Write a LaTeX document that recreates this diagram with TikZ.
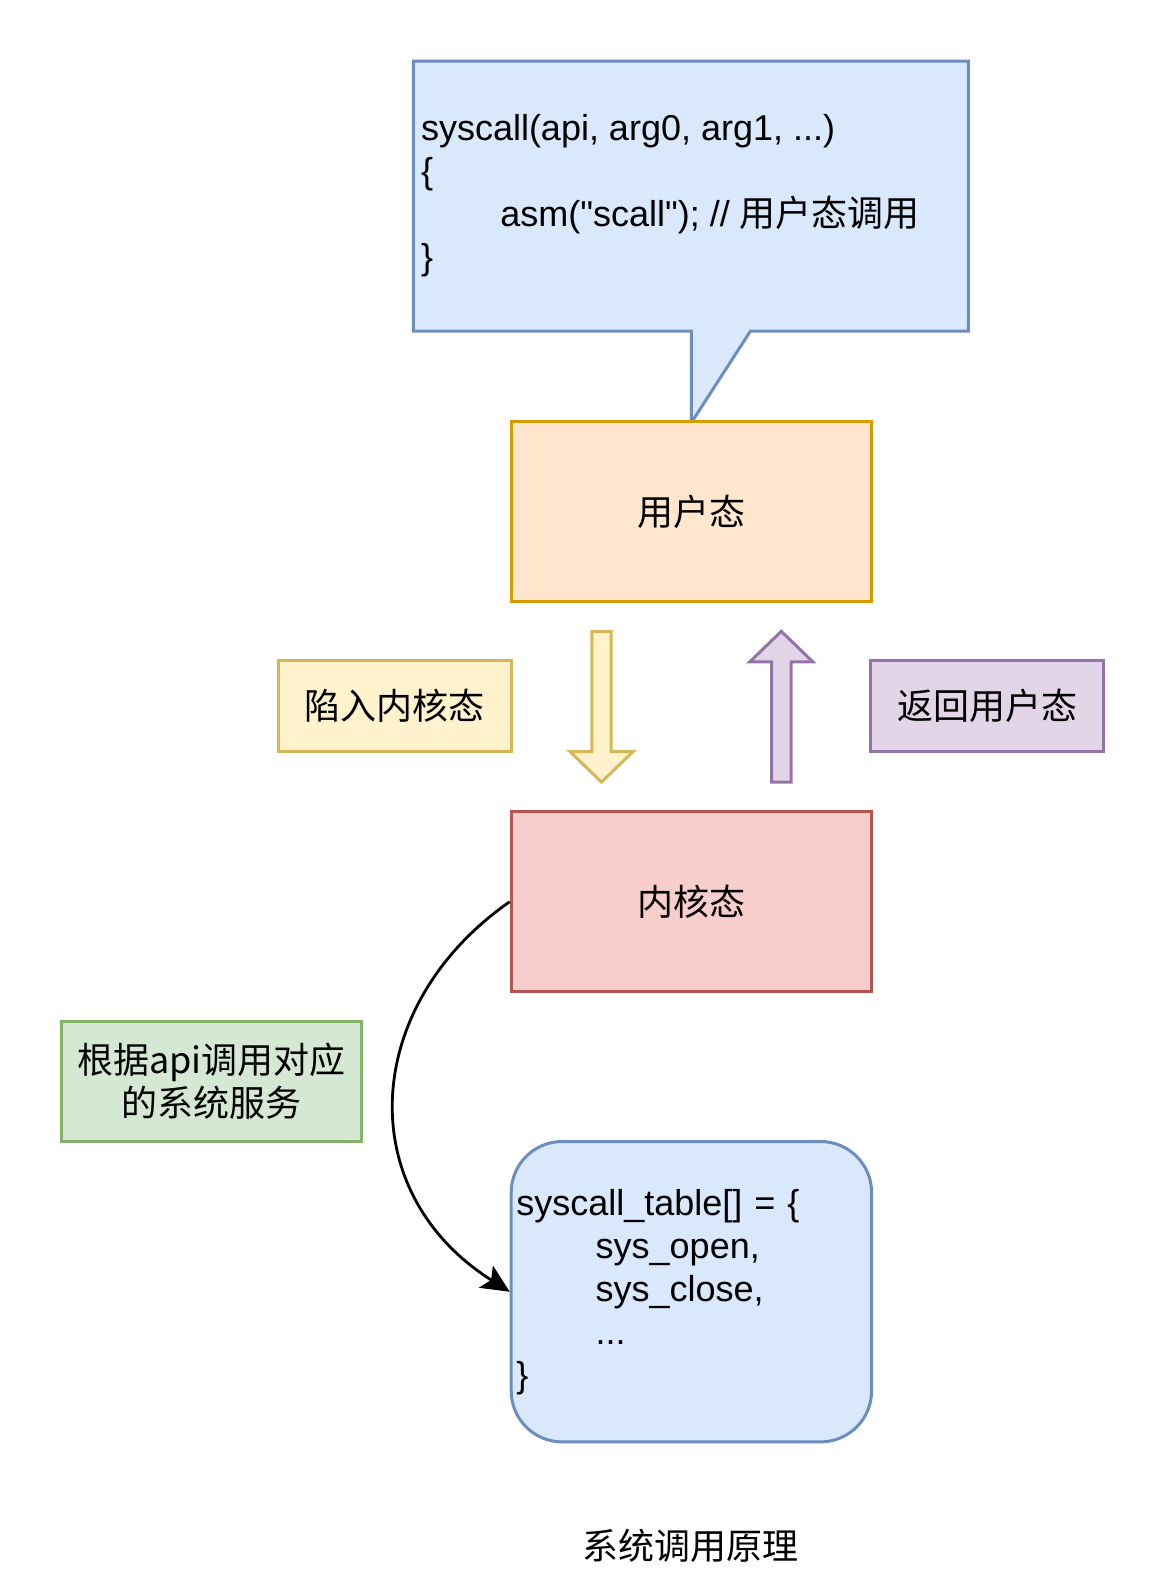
\documentclass[tikz,border=0pt]{standalone}
\usepackage{fontspec}
\newfontfamily\latin{Liberation Sans}
\newfontfamily\cjk{Noto Sans CJK SC}
\usepackage{xcolor}
\usepackage{tikz}
\usetikzlibrary{arrows.meta}

\definecolor{blueFill}{HTML}{DAE8FC}
\definecolor{blueLine}{HTML}{6C8EBF}
\definecolor{orangeFill}{HTML}{FFE6CC}
\definecolor{orangeLine}{HTML}{D79B00}
\definecolor{yellowFill}{HTML}{FFF2CC}
\definecolor{yellowLine}{HTML}{D6B656}
\definecolor{purpleFill}{HTML}{E1D5E7}
\definecolor{purpleLine}{HTML}{9673A6}
\definecolor{redFill}{HTML}{F8CECC}
\definecolor{redLine}{HTML}{B85450}
\definecolor{greenFill}{HTML}{D5E8D4}
\definecolor{greenLine}{HTML}{82B366}

\newcommand{\zh}[1]{{\cjk #1}}

\begin{document}
\begin{tikzpicture}[x=0.5pt,y=-0.5pt]
            \tikzset{Txt/.style={%
                    font=\latin\fontsize{18pt}{21.5pt}\selectfont,%
                },
                State/.style={%
                    shape=rectangle,%
                    line width=1.5pt,%
                    minimum width=180.2pt,%
                    minimum height=90.1pt,%
                    inner sep=0pt,%
                    Txt,%
                },
                Note/.style={%
                    shape=rectangle,%
                    line width=1.5pt,%
                    minimum width=116.6pt,%
                    minimum height=45.3pt,%
                    inner sep=0pt,%
                    align=center,%
                    Txt,%
                },
                Block/.style={line width=1.5pt, line join=miter},%
                Flow/.style={-{Stealth[length=14pt,width=13pt,inset=3pt]}, line width=1.4pt},%
            }
            \useasboundingbox (0,0) rectangle (1176,1596);

            % callout above the user state
            \filldraw[Block, fill=blueFill, draw=blueLine] (413.4,61.1) -- (968.4,61.1) -- (968.4,331)
                -- (750.5,331) -- (691.4,422.6) -- (691.4,331) -- (413.4,331) -- cycle;
            \node[Txt, anchor=west, align=left, inner xsep=3.6pt] (api) at (413.4,196)
                {syscall(api, arg0, arg1, ...)\\
                 \{\\
                 \hspace*{39.7pt}asm("scall"); // \zh{用户态调用}\\
                 \}};

            \node[State, fill=orangeFill, draw=orangeLine] (user) at (691.4,511.7) {\zh{用户态}};
            \node[State, fill=redFill, draw=redLine] (kernel) at (691.4,901.7) {\zh{内核态}};

            \node[Note, fill=yellowFill, draw=yellowLine] (trap) at (394.6,706.2) {\zh{陷入内核态}};
            \node[Note, fill=purpleFill, draw=purpleLine] (back) at (987.2,706.2) {\zh{返回用户态}};

            % block arrows between the two states
            \filldraw[Block, fill=yellowFill, draw=yellowLine] (591.8,631.3) -- (611.2,631.3) -- (611.2,751.5)
                -- (633.1,751.5) -- (601.5,782.1) -- (569.9,751.5) -- (591.8,751.5) -- cycle;
            \filldraw[Block, fill=purpleFill, draw=purpleLine] (771.6,782.1) -- (791,782.1) -- (791,661.9)
                -- (812.9,661.9) -- (781.3,631.3) -- (749.7,661.9) -- (771.6,661.9) -- cycle;

            \node[Note, fill=greenFill, draw=greenLine, minimum width=150.2pt, minimum height=60.1pt]
                (lookup) at (211.3,1081.4) {\zh{根据api调用对应}\\\zh{的系统服务}};

            \node[State, fill=blueFill, draw=blueLine, rounded corners=25.5pt,
                  minimum height=150.2pt, text width=175.1pt, inner xsep=2.55pt, align=left]
                (table) at (691.4,1291.7)
                {syscall\_table[] = \{\\
                 \hspace*{39.7pt}sys\_open,\\
                 \hspace*{39.7pt}sys\_close,\\
                 \hspace*{39.7pt}...\\
                 \}};

            \draw[Flow] (kernel.west) .. controls (361.5,1005.1) and (351.3,1191.4) .. (table.west);

            \node[Txt] (title) at (690.4,1545.8) {\zh{系统调用原理}};
\end{tikzpicture}
\end{document}
